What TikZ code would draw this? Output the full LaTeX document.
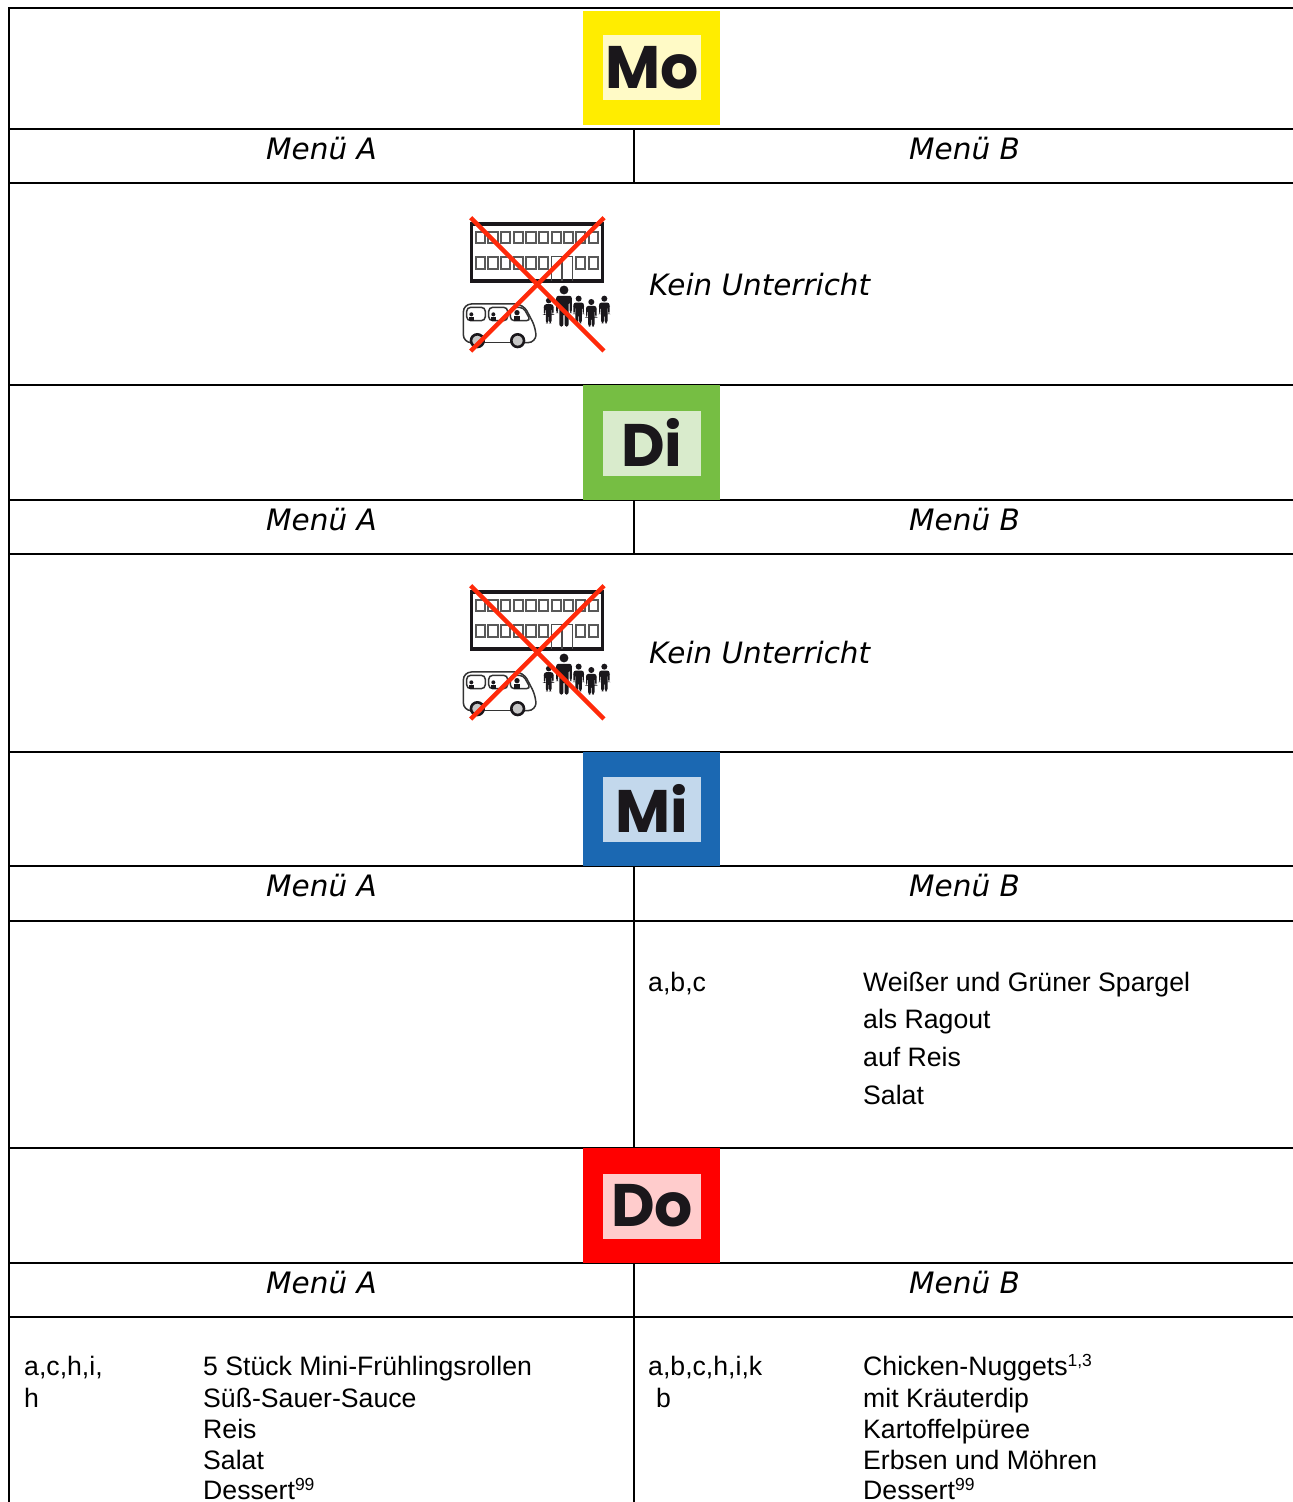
\documentclass[tikz,border=0pt]{standalone}
\usepackage{fontspec}
\setmainfont{Liberation Sans}
\newfontfamily\menufont{DejaVu Sans}
\newfontfamily\badgefont{Poppins}
\definecolor{iconred}{HTML}{FF2A0A}
\definecolor{ink}{HTML}{1A171B}
\newcommand{\supnote}[1]{\raisebox{9pt}{\fontsize{17.5}{17.5}\selectfont #1}}
\newcommand{\person}[3]{% x, y of head centre, scale
  \begin{scope}[shift={(#1,#2)},scale=#3]
    \fill[ink] (0,0) circle (8.5);
    \fill[ink,rounded corners=2.5] (-15,11) -- (15,11) -- (15,44) -- (11,44) -- (11,22) -- (9,22) -- (9,70) -- (1,70) -- (1,44) -- (-1,44) -- (-1,70) -- (-9,70) -- (-9,22) -- (-11,22) -- (-11,44) -- (-15,44) -- cycle;
  \end{scope}}
\newcommand{\schoolicon}[1]{%
  \begin{scope}[shift={(440,#1)},x=0.3333pt,y=-0.3333pt]
    \draw[ink,line width=3.2pt] (95,72) rectangle (488,243);
    \foreach \wx in {107,145,183,221,259,297,335,372,408,446}
      \draw[black!65,line width=1.7pt] (\wx,95) rectangle ++(28,34);
    \foreach \wx in {107,145,183,221,259,297,408,446}
      \draw[black!65,line width=1.7pt] (\wx,172) rectangle ++(28,34);
    \draw[black!70,line width=1.5pt] (335,243) -- (335,170) -- (398,170) -- (398,243) (366,170) -- (366,243);
    \draw[black!80,line width=1.5pt,rounded corners=8pt] (92,428) -- (70,428) -- (70,312) -- (250,312) -- (288,385) -- (288,428) -- (255,428);
    \draw[black!80,line width=1.5pt] (132,428) -- (213,428);
    \draw[black!80,line width=1.5pt,rounded corners=4pt] (80,322) rectangle (136,362);
    \draw[black!80,line width=1.5pt,rounded corners=4pt] (146,322) rectangle (203,362);
    \draw[black!80,line width=1.5pt,rounded corners=4pt] (211,322) -- (250,322) -- (272,362) -- (211,362) -- cycle;
    \foreach \hx/\hy/\hr in {94/343/6,160/343/6,231/338/8} {
      \fill[ink] (\hx,\hy) circle (\hr);
      \fill[ink] (\hx-\hr-2,362) rectangle (\hx+\hr+2,\hy+\hr+2);
    }
    \foreach \wx in {112,233}
      \draw[ink,line width=2.6pt,fill=black!22] (\wx,422) circle (19);
    \person{326}{302}{0.97}
    \person{372}{270}{1.57}
    \person{416}{296}{1.06}
    \person{454}{306}{1.06}
    \person{493}{296}{1.06}
    \draw[iconred,line width=4.4pt] (92,53) -- (492,453) (492,53) -- (92,453);
  \end{scope}}
\tikzset{
  grid/.style={black,line width=2pt},
  badgeouter/.style={draw=none,minimum width=137pt,inner sep=0pt,outer sep=0pt,anchor=north west},
  badgeinner/.style={draw=none,minimum width=98pt,minimum height=65pt,inner sep=0pt},
  badgetext/.style={text=ink,inner sep=0pt,font={\fontsize{60}{60}\selectfont\badgefont\bfseries}},
  menuhead/.style={anchor=base,inner sep=0pt,font={\fontsize{29.5}{34}\selectfont\menufont\itshape}},
  body/.style={anchor=base west,inner sep=0pt,font={\fontsize{26.65}{30}\selectfont}},
  notice/.style={anchor=base west,inner sep=0pt,font={\fontsize{29.4}{34}\selectfont\menufont\itshape}},
}
\begin{document}
\begin{tikzpicture}[x=1pt,y=-1pt]
\useasboundingbox (0,0) rectangle (1293,1502);
\fill[white] (0,0) rectangle (1293,1502);
\begin{scope}
\clip (0,0) rectangle (1293,1502);
% table rules
\foreach \ry in {8,129,183,385,500,554,752,866,921,1148,1263,1317}
  \draw[grid] (9,\ry) -- (1293,\ry);
\draw[grid] (9,7) -- (9,1502);
\draw[grid] (634,129) -- (634,183) (634,500) -- (634,554) (634,866) -- (634,1148) (634,1263) -- (634,1502);
% day badges
\node[badgeouter,fill={rgb,255:red,255;green,237;blue,0},minimum height=114pt] (mo) at (583,11) {};
\node[badgeinner,fill={rgb,255:red,255;green,250;blue,198}] (moi) at (652,67.5) {};
\node[badgetext] (mot) at (652,68) {Mo};
\node[badgeouter,fill={rgb,255:red,118;green,190;blue,67},minimum height=115pt] (di) at (583,385) {};
\node[badgeinner,fill={rgb,255:red,217;green,235;blue,204}] (dii) at (652,443) {};
\node[badgetext] (dit) at (652,442) {Di};
\node[badgeouter,fill={rgb,255:red,27;green,104;blue,178},minimum height=114pt] (mi) at (583,752) {};
\node[badgeinner,fill={rgb,255:red,195;green,216;blue,236}] (mii) at (652,809) {};
\node[badgetext] (mit) at (652,808) {Mi};
\node[badgeouter,fill={rgb,255:red,255;green,0;blue,0},minimum height=115pt] (do) at (583,1148) {};
\node[badgeinner,fill={rgb,255:red,255;green,204;blue,204}] (doi) at (652,1206) {};
\node[badgetext] (dot) at (652,1206) {Do};
% menu headings
\node[menuhead] (a1) at (321.5,159) {Menü A};
\node[menuhead] (b1) at (964.5,159) {Menü B};
\node[menuhead] (a2) at (321.5,530) {Menü A};
\node[menuhead] (b2) at (964.5,530) {Menü B};
\node[menuhead] (a3) at (321.5,896) {Menü A};
\node[menuhead] (b3) at (964.5,896) {Menü B};
\node[menuhead] (a4) at (321.5,1293) {Menü A};
\node[menuhead] (b4) at (964.5,1293) {Menü B};
% no school
\schoolicon{200}
\schoolicon{568}
\node[notice] (k1) at (649,295) {Kein Unterricht};
\node[notice] (k2) at (649,663) {Kein Unterricht};
% Wednesday
\node[body] (m1) at (648,991) {a,b,c};
\node[body] (m2) at (863,991) {Weißer und Grüner Spargel};
\node[body] (m3) at (863,1028) {als Ragout};
\node[body] (m4) at (863,1066) {auf Reis};
\node[body] (m5) at (863,1104) {Salat};
% Thursday A
\node[body] (t1) at (24,1375) {a,c,h,i,};
\node[body] (t2) at (24,1407) {h};
\node[body] (t3) at (203,1375) {5 Stück Mini-Frühlingsrollen};
\node[body] (t4) at (203,1407) {Süß-Sauer-Sauce};
\node[body] (t5) at (203,1438) {Reis};
\node[body] (t6) at (203,1469) {Salat};
\node[body] (t7) at (203,1499) {Dessert\supnote{99}};
% Thursday B
\node[body] (u1) at (648,1375) {a,b,c,h,i,k};
\node[body] (u2) at (656,1407) {b};
\node[body] (u3) at (863,1375) {Chicken-Nuggets\supnote{1,3}};
\node[body] (u4) at (863,1407) {mit Kräuterdip};
\node[body] (u5) at (863,1438) {Kartoffelpüree};
\node[body] (u6) at (863,1469) {Erbsen und Möhren};
\node[body] (u7) at (863,1499) {Dessert\supnote{99}};
\end{scope}
\end{tikzpicture}
\end{document}
